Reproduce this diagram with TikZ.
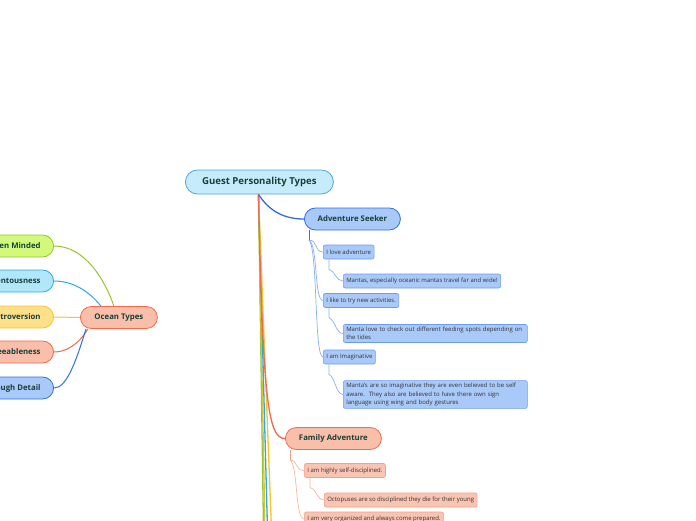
\documentclass[tikz,border=0pt]{standalone}
\usepackage{fontspec}
\setmainfont{Open Sans}
\definecolor{txt}{HTML}{17403A}
\definecolor{stxt}{HTML}{333333}
\definecolor{rootfill}{HTML}{C6EBFB}
\definecolor{rootdraw}{HTML}{4AA6E0}
\definecolor{bluefill}{HTML}{A9C9F9}
\definecolor{bluedraw}{HTML}{2F6FE0}
\definecolor{bluesub}{HTML}{6C9CF0}
\definecolor{bluecon}{HTML}{8AB0F0}
\definecolor{redfill}{HTML}{F9BFAA}
\definecolor{reddraw}{HTML}{F26A48}
\definecolor{redsubfill}{HTML}{F9C4B2}
\definecolor{redsub}{HTML}{F3A08A}
\definecolor{redcon}{HTML}{F7B5A2}
\definecolor{greenfill}{HTML}{D3F97A}
\definecolor{greendraw}{HTML}{97C530}
\definecolor{lbfill}{HTML}{B2E7FB}
\definecolor{lbdraw}{HTML}{2AAAE6}
\definecolor{yelfill}{HTML}{FFE08A}
\definecolor{yeldraw}{HTML}{F9C22E}
\begin{document}
\begin{tikzpicture}[x=1pt,y=-1pt,
  bignode/.style={rounded corners=11pt, line width=0.8pt, text=txt, font=\bfseries\fontsize{7.8}{9}\selectfont, minimum height=22pt, inner xsep=10pt},
  rootnode/.style={bignode, fill=rootfill, draw=rootdraw, rounded corners=12pt, minimum height=24pt, font=\bfseries\fontsize{9.6}{11}\selectfont},
  subnode/.style={rounded corners=2pt, line width=0.6pt, text=stxt, font=\fontsize{6}{8.4}\selectfont, minimum height=14pt, inner xsep=3pt, inner ysep=2.5pt, anchor=west, align=left},
  bsub/.style={subnode, fill=bluefill, draw=bluesub},
  rsub/.style={subnode, fill=redsubfill, draw=redsub},
  mainline/.style={line width=1.3pt},
  subline/.style={line width=0.7pt}
]
\useasboundingbox (0,0) rectangle (696,520);
\clip (0,0) rectangle (696,520);

% root
\node[rootnode, minimum width=148pt, anchor=west] (root) at (185,182) {Guest Personality Types};

% Adventure seeker
\node[bignode, fill=bluefill, draw=bluedraw, minimum width=96pt, anchor=west] (as) at (304,219) {Adventure Seeker};
\node[bsub] (a1) at (323,252) {I love adventure};
\node[bsub] (a1c) at (343,281) {Mantas, especially oceanic mantas travel far and wide!};
\node[bsub] (a2) at (323,300.5) {I like to try new activities.};
\node[bsub, text width=178pt] (a2c) at (343,333.5) {Manta love to check out different feeding spots depending on\\the tides};
\node[bsub] (a3) at (323,357) {I am Imaginative};
\node[bsub, text width=178pt] (a3c) at (343,394.5) {Manta's are so imaginative they are even believed to be self\\aware.\ \ They also are believed to have there own sign\\language using wing and body gestures};

% Family adventure
\node[bignode, fill=redfill, draw=reddraw, minimum width=96pt, anchor=west] (fa) at (285,438.5) {Family Adventure};
\node[rsub] (f1) at (304,470.5) {I am highly self-disciplined.};
\node[rsub] (f1c) at (324,500) {Octopuses are so disciplined they die for their young};
\node[rsub] (f2) at (304,519) {I am very organized and always come prepared.};

% Ocean types
\node[bignode, fill=redfill, draw=reddraw, minimum width=77pt, anchor=west] (oc) at (80,317.5) {Ocean Types};
\node[bignode, fill=greenfill, draw=greendraw, anchor=east, inner xsep=13pt] (o1) at (54,246) {Open Minded};
\node[bignode, fill=lbfill, draw=lbdraw, anchor=east, inner xsep=13pt] (o2) at (54,281) {Conscientousness};
\node[bignode, fill=yelfill, draw=yeldraw, anchor=east, inner xsep=13pt] (o3) at (54,317) {Extroversion};
\node[bignode, fill=redfill, draw=reddraw, anchor=east, inner xsep=13pt] (o4) at (54,352) {Agreeableness};
\node[bignode, fill=bluefill, draw=bluedraw, anchor=east, inner xsep=13pt] (o5) at (54,388) {Through Detail};

% off-canvas targets
\coordinate (c1) at (263.5,530);
\coordinate (c2) at (265,530);
\coordinate (c3) at (267.5,530);
\coordinate (c4) at (271.5,530);
\coordinate (rs) at (258.5,194.5);

% connectors from root
\draw[mainline, draw=greendraw] (rs) -- (c1);
\draw[mainline, draw=yeldraw!70!greendraw] (rs) -- (c2);
\draw[mainline, draw=lbdraw] (rs) -- (c3);
\draw[mainline, draw=yeldraw] (rs) -- (c4);
\draw[mainline, draw=reddraw] (rs) .. controls (263,400) and (268,438.5) .. (fa.west);
\draw[mainline, draw=bluedraw] (rs) .. controls (270,212) and (285,219) .. (as.west);

% adventure seeker branch
\coordinate (asb) at (309,240);
\draw[subline, draw=bluedraw] (as.south west -| asb) -- (asb);
\draw[subline, draw=bluecon] (asb) .. controls (318,240) and (314,252) .. (a1.west);
\draw[subline, draw=bluecon] (asb) .. controls (318,245) and (314,300.5) .. (a2.west);
\draw[subline, draw=bluecon] (asb) .. controls (318,250) and (314,357) .. (a3.west);
\draw[subline, draw=bluecon] (a1.south west) ++(6,0) -- ++(0,10) .. controls (335,271) and (336,281) .. (a1c.west);
\draw[subline, draw=bluecon] (a2.south west) ++(6,0) -- ++(0,10) .. controls (335,320) and (336,333.5) .. (a2c.west);
\draw[subline, draw=bluecon] (a3.south west) ++(6,0) -- ++(0,10) .. controls (335,377) and (336,394.5) .. (a3c.west);

% family adventure branch
\coordinate (fab) at (290,460);
\draw[subline, draw=redsub] (fa.south west -| fab) -- (fab);
\draw[subline, draw=redcon] (fab) .. controls (298,460) and (295,470.5) .. (f1.west);
\draw[subline, draw=redcon] (fab) .. controls (298,465) and (295,519) .. (f2.west);
\draw[subline, draw=redcon] (f1.south west) ++(6,0) -- ++(0,10) .. controls (316,488) and (317,500) .. (f1c.west);

% ocean types connectors
\draw[mainline, line width=1pt, draw=greendraw] (oc.north) ++(-5,0) .. controls (105,280) and (85,246) .. (o1.east);
\draw[mainline, line width=1pt, draw=lbdraw] (oc.north) ++(-18,0) .. controls (88,290) and (72,281) .. (o2.east);
\draw[mainline, line width=1pt, draw=yeldraw] (oc.west) -- (o3.east);
\draw[mainline, line width=1pt, draw=reddraw] (oc.south west) ++(8,0) .. controls (78,345) and (66,352) .. (o4.east);
\draw[mainline, line width=1pt, draw=bluedraw] (oc.south west) ++(6,0) .. controls (75,365) and (66,388) .. (o5.east);
\end{tikzpicture}
\end{document}
